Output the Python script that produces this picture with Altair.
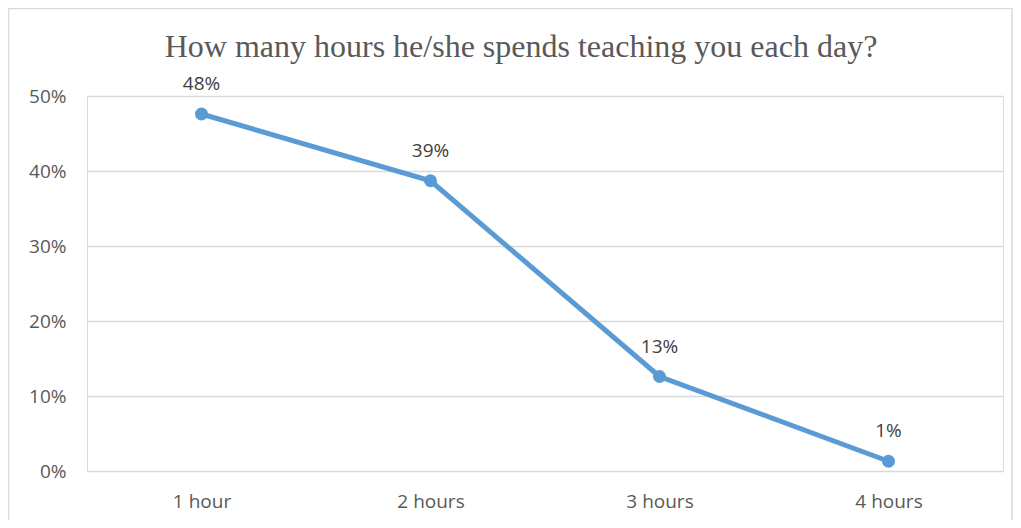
import altair as alt
import pandas as pd

categories = ["1 hour", "2 hours", "3 hours", "4 hours"]
shares = [0.476, 0.387, 0.126, 0.013]
y_ticks = [0, 0.1, 0.2, 0.3, 0.4, 0.5]
title_text = "How many hours he/she spends teaching you each day?"

df = pd.DataFrame({"cat": categories, "share": shares})

LABEL_FONT = "Open Sans"
BLUE = "#5B9BD5"

x_enc = alt.X(
    "cat:N",
    sort=categories,
    scale=alt.Scale(type="point", padding=0.5),
    axis=alt.Axis(
        title=None, labelAngle=0, domain=False, ticks=False, grid=False,
        labelPadding=21, labelFont=LABEL_FONT, labelFontSize=19,
        labelColor="#595959",
    ),
)
y_enc = alt.Y(
    "share:Q",
    scale=alt.Scale(domain=[0, 0.5], nice=False),
    axis=alt.Axis(
        title=None, values=y_ticks, format=".0%", domain=False, ticks=False,
        labelPadding=21, labelFont=LABEL_FONT, labelFontSize=19,
        labelColor="#595959", gridColor="#d9d9d9", gridWidth=1.3,
    ),
)

base = alt.Chart(df)

line = base.mark_line(color=BLUE, strokeWidth=5).encode(x=x_enc, y=y_enc)
points = base.mark_point(filled=True, color=BLUE, size=170, opacity=1).encode(x=x_enc, y=y_enc)
labels = base.mark_text(
    dy=-30, font=LABEL_FONT, fontSize=19, color="#404040"
).encode(x=x_enc, y=y_enc, text=alt.Text("share:Q", format=".0%"))

deco = alt.Chart(pd.DataFrame({"t": [title_text]}))
frame = deco.mark_rect(
    fill="transparent", stroke="#d9d9d9", strokeWidth=1.5
).encode(
    x=alt.value(-78.5), x2=alt.value(925), y=alt.value(-87.5), y2=alt.value(460)
)
title = deco.mark_text(
    font="Liberation Serif", fontSize=32, color="#595959", align="center",
    baseline="alphabetic",
).encode(x=alt.value(434), y=alt.value(-39), text="t:N")

chart = alt.layer(frame, title, line, points, labels).properties(
    width=916,
    height=375,
    padding={"left": 79, "right": 10, "top": 88, "bottom": 49},
    autosize=alt.AutoSizeParams(type="none"),
).configure_view(stroke=None).configure(background="white")

chart.save("out.html", embed_options={"renderer": "svg", "actions": False})
